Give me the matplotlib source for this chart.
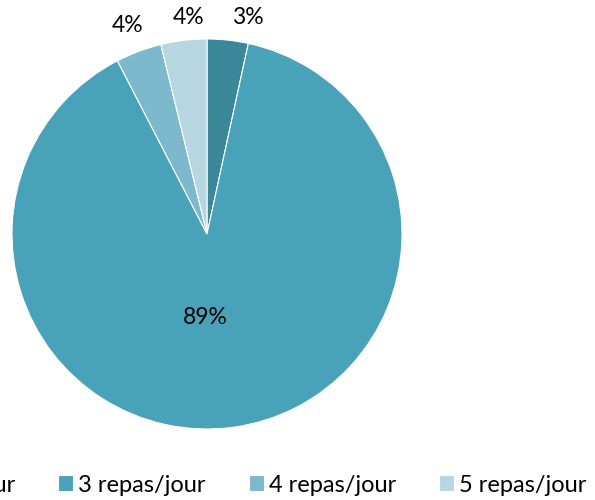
import matplotlib
matplotlib.use("Agg")
import matplotlib.pyplot as plt

categories = ["2 repas/jour", "3 repas/jour", "4 repas/jour", "5 repas/jour"]
values = [3.4, 89.0, 3.8, 3.8]
labels = ["3%", "89%", "4%", "4%"]
colors = ["#3a8799", "#48a2b9", "#7db9cd", "#b6d6e1"]

plt.rcParams['font.family'] = ['Lato', 'DejaVu Sans']

W, H = 595, 500
fig = plt.figure(figsize=(W / 100, H / 100), dpi=100)
cx, cy, r = 207, 234, 195
ax = fig.add_axes([(cx - r) / W, (H - cy - r) / H, 2 * r / W, 2 * r / H])
wedges, _ = ax.pie(values, colors=colors, startangle=90, counterclock=False,
                   radius=1, wedgeprops=dict(edgecolor="white", linewidth=0.8))
ax.set_xlim(-1, 1)
ax.set_ylim(-1, 1)
ax.set_aspect("equal")
ax.axis("off")

label_pos = [(0.21, 1.108), (-0.01, -0.43), (-0.405, 1.07), (-0.097, 1.108)]
for lab, (x, y) in zip(labels, label_pos):
    ax.text(x, y, lab, ha="center", va="center", fontsize=16.5, color="#000000",
            clip_on=False)

fs = 17
em = fs * 100 / 72
fig.legend(wedges, categories, loc="center left", ncol=4,
           bbox_to_anchor=(-132 / W, 1 - 485 / H), frameon=False, fontsize=fs,
           handlelength=15 / em, handleheight=15 / em, handletextpad=5 / em,
           columnspacing=43 / em, borderaxespad=0, borderpad=0)

fig.savefig("out.png", dpi=100)
